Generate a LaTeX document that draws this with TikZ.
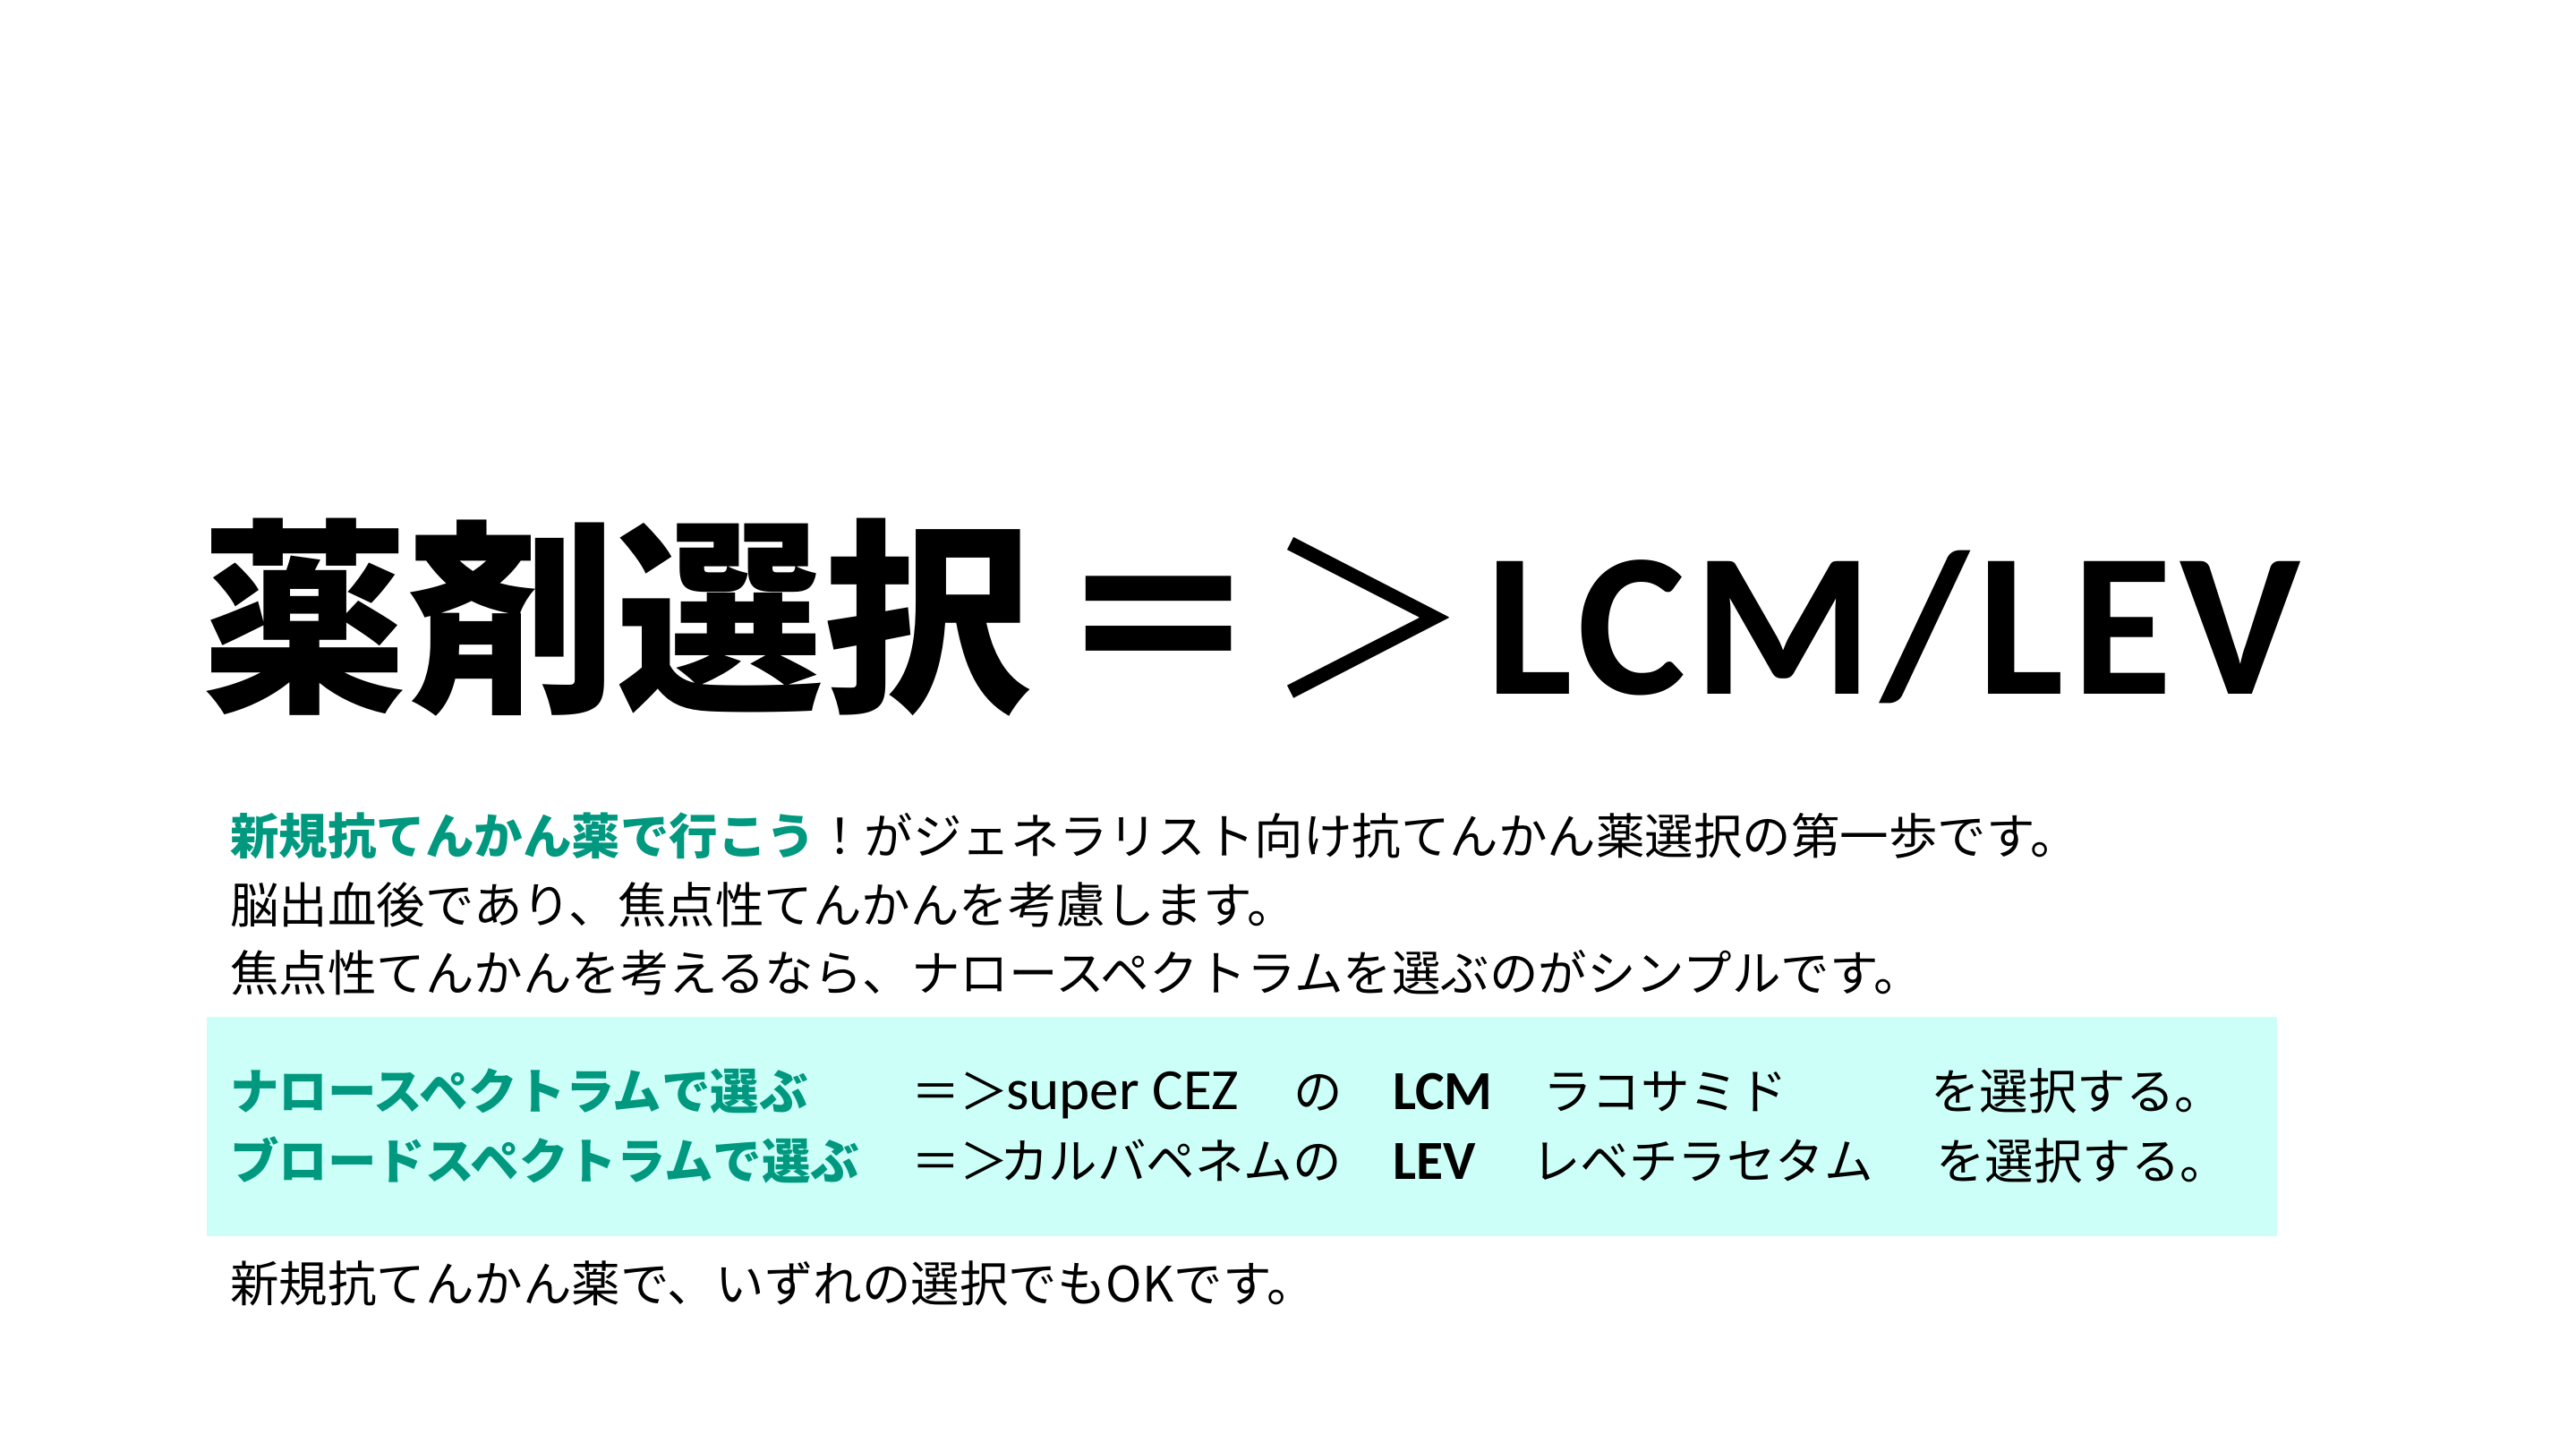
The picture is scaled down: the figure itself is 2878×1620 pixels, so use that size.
\documentclass[tikz,border=0pt]{standalone}
\usepackage{fontspec}
\setmainfont{Carlito}
\newfontfamily\jp{Noto Sans CJK JP}
\definecolor{tealg}{RGB}{0,153,128}
\definecolor{boxc}{RGB}{204,255,247}
\tikzset{
  txt/.style={inner sep=0pt, outer sep=0pt, anchor=base west},
  body/.style={txt, font=\jp\fontsize{15.5}{18}\selectfont},
  lat/.style={txt, font=\fontsize{18.5}{20}\selectfont},
  latb/.style={txt, font=\bfseries\fontsize{17.5}{20}\selectfont},
  green/.style={body, font=\jp\bfseries\fontsize{15.5}{18}\selectfont, text=tealg},
  ttl/.style={inner sep=0pt, outer sep=0pt, font=\jp\bfseries\fontsize{66}{70}\selectfont}
}
\begin{document}
\begin{tikzpicture}[x=0.01cm, y=-0.01cm]
\useasboundingbox (0,0) rectangle (2878,1620);
\fill[white] (0,0) rectangle (2878,1620);
% title
\node[ttl, anchor=base west] (t1) at (224,777) {薬剤選択};
\node[ttl, anchor=base] (teq) at (1295,777) {＝};
\node[ttl, anchor=base, font=\jp\fontsize{66}{70}\selectfont] (tgt) at (1528,777) {＞};
\node[txt, font=\bfseries\fontsize{65}{70}\selectfont\addfontfeature{LetterSpace=4}] (tlat) at (1660,775) {LCM/LEV};
% body lines
\node[body] (l1) at (257,954) {{\bfseries\color{tealg}新規抗てんかん薬で行こう}！がジェネラリスト向け抗てんかん薬選択の第一歩です。};
\node[body] (l2) at (257,1031) {脳出血後であり、焦点性てんかんを考慮します。};
\node[body] (l3) at (257,1107) {焦点性てんかんを考えるなら、ナロースペクトラムを選ぶのがシンプルです。};
% box
\fill[boxc] (231,1136) rectangle (2544,1381);
\node[green] (r1a) at (257,1239) {ナロースペクトラムで選ぶ};
\node[body] (r1b) at (1018,1239) {＝＞};
\node[lat] (r1c) at (1124,1239) {super CEZ};
\node[body] (r1d) at (1445,1239) {の};
\node[latb] (r1e) at (1556,1239) {LCM};
\node[body] (r1f) at (1724,1239) {ラコサミド};
\node[body] (r1g) at (2157,1239) {を選択する。};
\node[green] (r2a) at (257,1317) {ブロードスペクトラムで選ぶ};
\node[body] (r2b) at (1018,1317) {＝＞};
\node[body] (r2c) at (1117,1317) {カルバペネムの};
\node[latb] (r2e) at (1556,1317) {LEV};
\node[body] (r2f) at (1711,1317) {レベチラセタム};
\node[body] (r2g) at (2163,1317) {を選択する。};
% last line
\node[body] (l4) at (257,1454) {新規抗てんかん薬で、いずれの選択でもOKです。};
\end{tikzpicture}
\end{document}
